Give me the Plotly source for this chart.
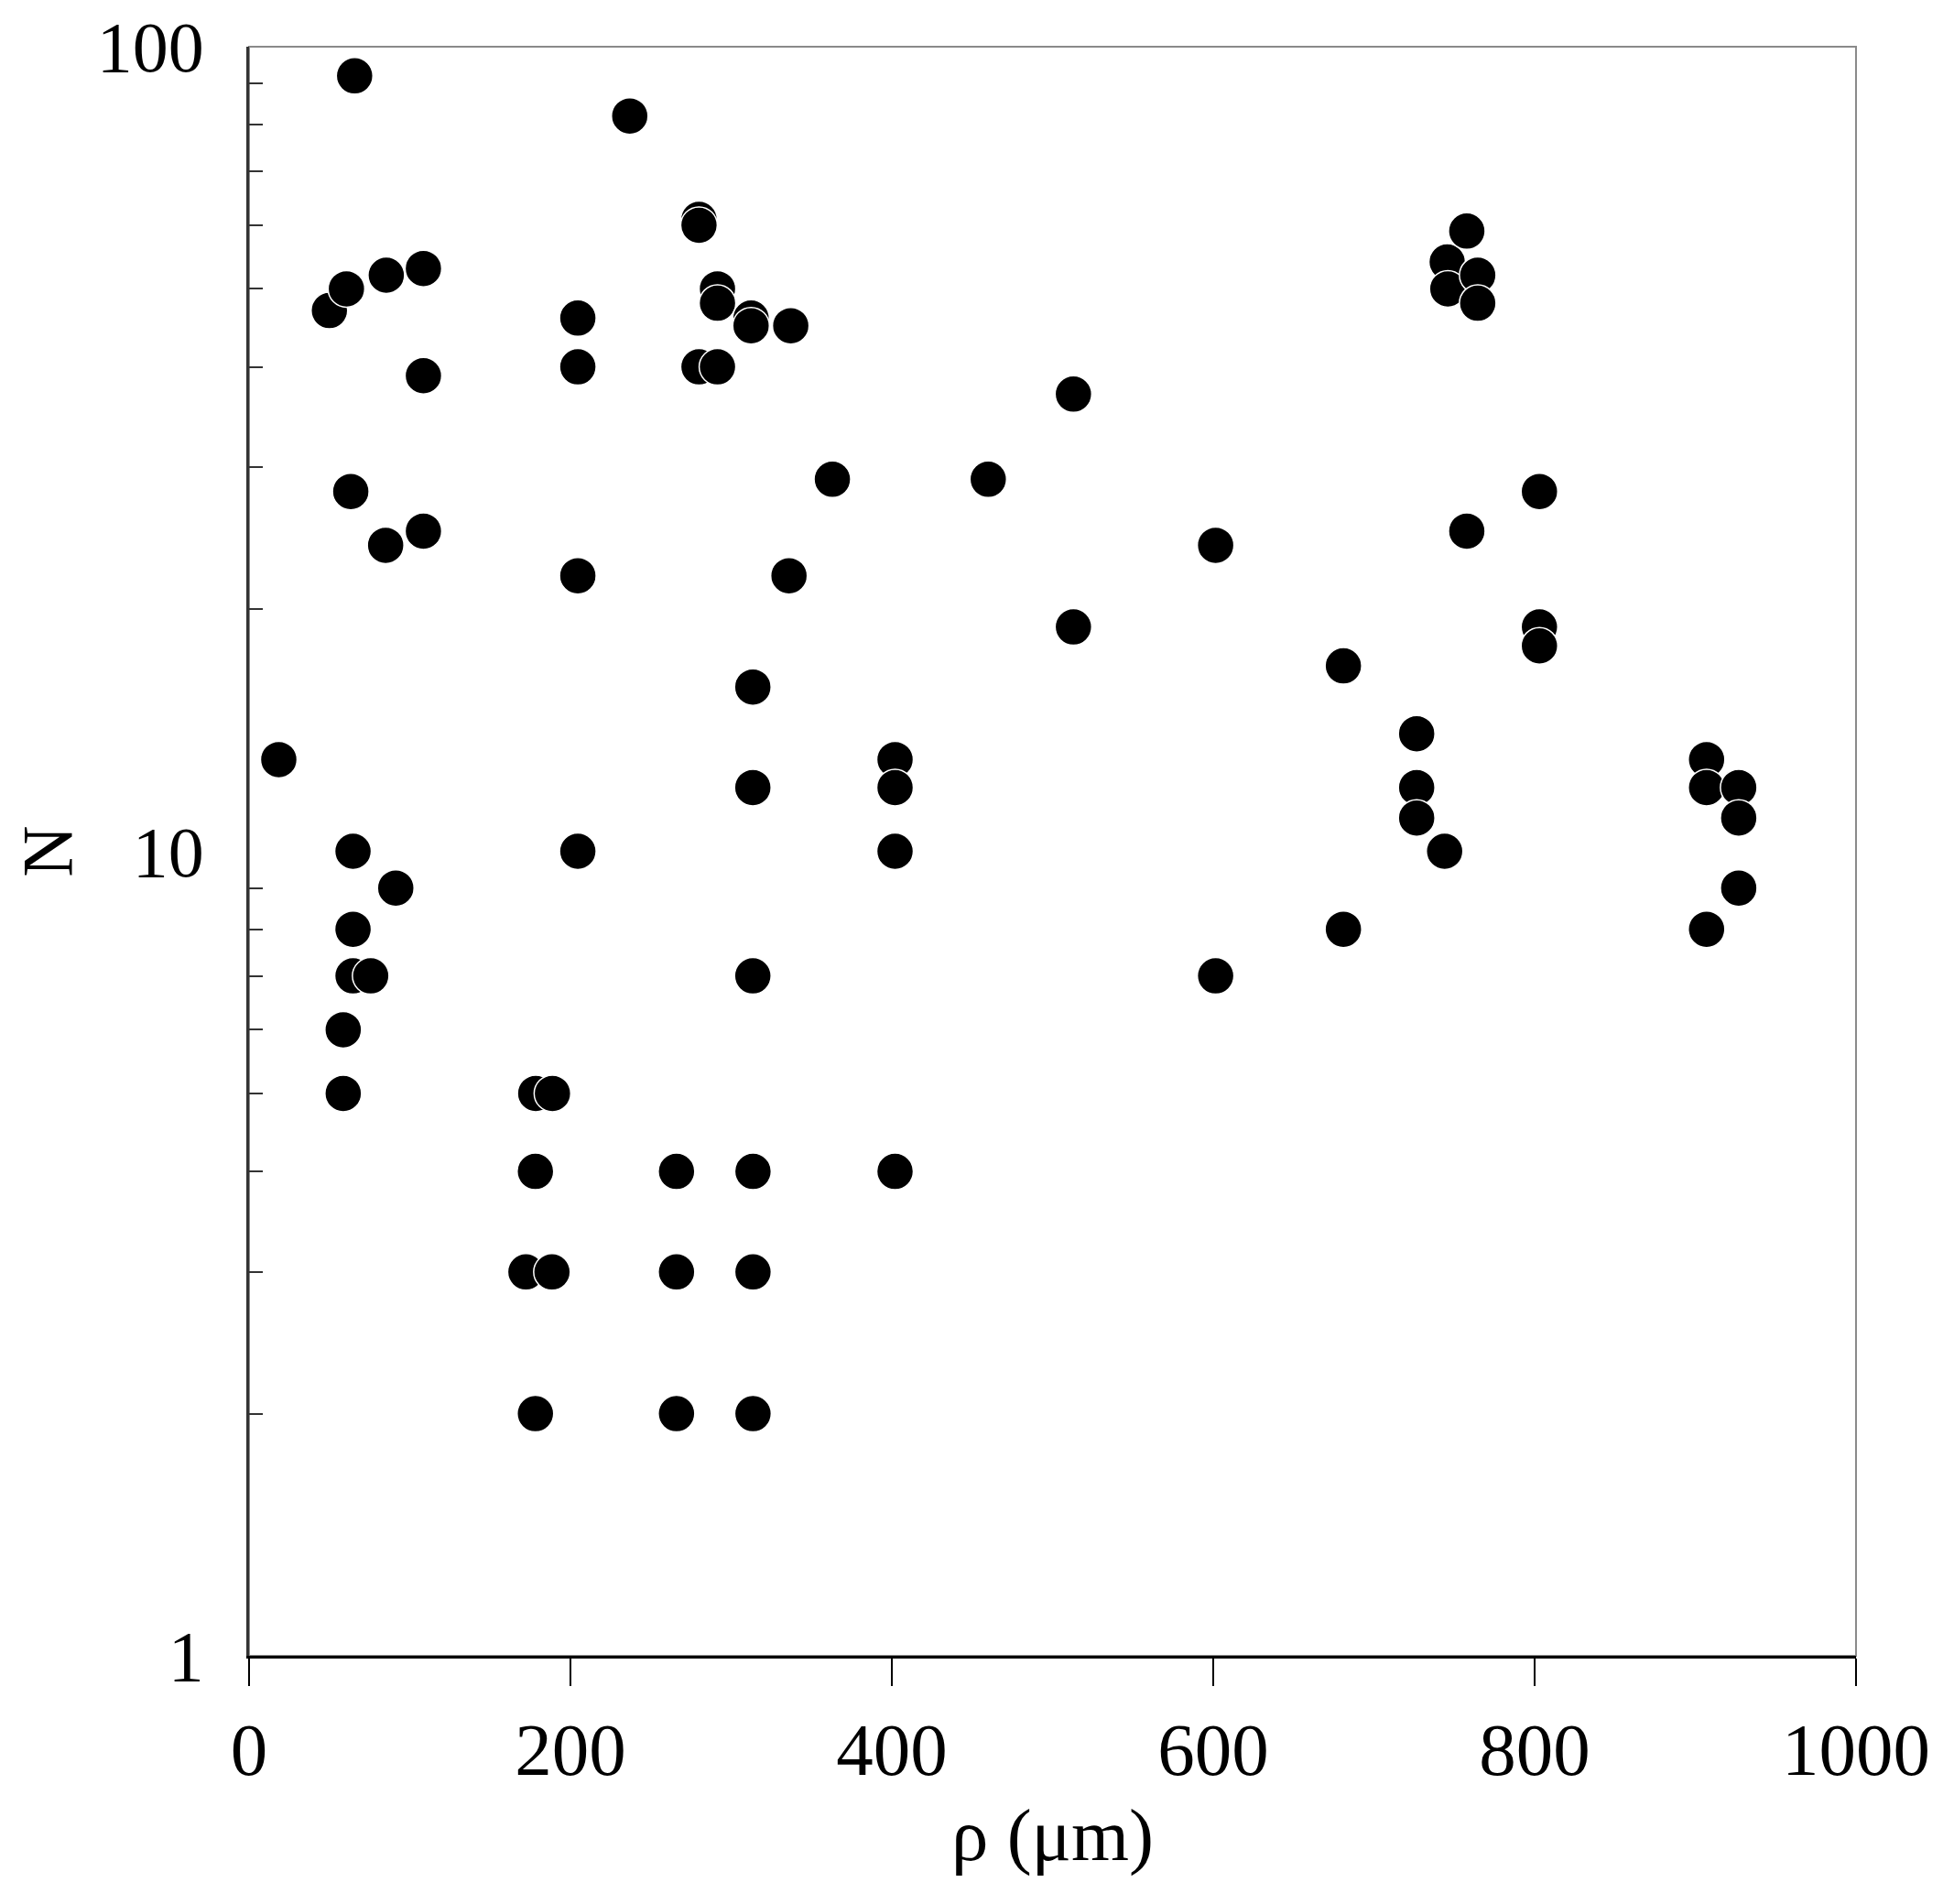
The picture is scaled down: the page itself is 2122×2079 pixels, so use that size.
import plotly.graph_objects as go

rho_um = [65.7, 18.5, 50, 60.6, 85.4, 108.5, 108.5, 63.3, 85, 108.5,
          64.7, 91.3, 64.7, 64.7, 75.7, 58.6, 58.6,
          236.9, 204.6, 204.6, 204.6, 204.6, 178.4, 188.8, 178.2, 172.3, 188.5, 178.2,
          280, 280, 291.5, 291.5, 280, 291.5, 312.4, 312.4, 337.1, 336,
          313.5, 313.5, 313.5, 266, 313.6, 266, 313.6, 266, 313.6,
          363, 460, 402, 402, 402, 402,
          513, 513, 601.5, 601.5,
          681, 681, 726.6, 726.6, 726.6, 744,
          745.6, 746, 757.8, 764.6, 764.6, 757.8,
          803, 803, 803,
          907, 907, 907, 927, 927, 927]
N_vals = [92, 13, 47, 50, 52, 53, 39, 28, 24, 25,
          10, 9, 8, 7, 7, 6, 5,
          82, 46, 40, 22, 10, 5, 5, 4, 3, 3, 2,
          61, 60, 50, 48, 40, 40, 46, 45, 45, 22,
          16, 12, 7, 4, 4, 3, 3, 2, 2,
          29, 29, 13, 12, 10, 4,
          37, 19, 24, 7,
          17, 8, 14, 12, 11, 10,
          54, 50, 59, 52, 48, 25,
          28, 19, 18,
          13, 12, 8, 12, 11, 9]

x_ticks = [0, 200, 400, 600, 800, 1000]
y_ticks = [1, 10, 100]
y_minor = [2, 3, 4, 5, 6, 7, 8, 9, 20, 30, 40, 50, 60, 70, 80, 90]

FONT = "Liberation Serif"

fig = go.Figure()
fig.add_trace(go.Scatter(
    x=rho_um, y=N_vals, mode="markers",
    marker=dict(size=40, color="black", line=dict(color="white", width=1.5)),
    showlegend=False, cliponaxis=False,
))

# grey frame for top/right edges
fig.add_shape(type="rect", xref="x domain", yref="y domain", x0=0, x1=1, y0=0, y1=1,
              line=dict(color="#8a8a8a", width=2), layer="below")

fig.update_layout(
    width=2122, height=2079,
    margin=dict(l=264, r=103, t=43, b=279, autoexpand=False),
    paper_bgcolor="white", plot_bgcolor="white",
    font=dict(family=FONT, size=78, color="black"),
)
fig.update_xaxes(
    range=[0, 1000], tickvals=x_ticks, ticktext=[str(v) for v in x_ticks],
    showgrid=False, zeroline=False, showline=True, linecolor="black", linewidth=2.5,
    ticks="outside", ticklen=30, tickwidth=2, tickcolor="black", automargin=False,
    tickfont=dict(family=FONT, size=81),
    title=dict(text="ρ (μm)", font=dict(family=FONT, size=81), standoff=20),
)
fig.update_yaxes(
    type="log", range=[0, 2], tickvals=y_ticks, ticktext=[str(v) for v in y_ticks],
    showgrid=False, zeroline=False, showline=True, linecolor="#333333", linewidth=2.5,
    ticks="", ticklabelstandoff=31, automargin=False,
    minor=dict(tickvals=y_minor, ticks="inside", ticklen=15, tickwidth=2, tickcolor="#333333", showgrid=False),
    tickfont=dict(family=FONT, size=78),
    title=dict(text="N", font=dict(family=FONT, size=78), standoff=78),
)

fig.write_html("out.html")
